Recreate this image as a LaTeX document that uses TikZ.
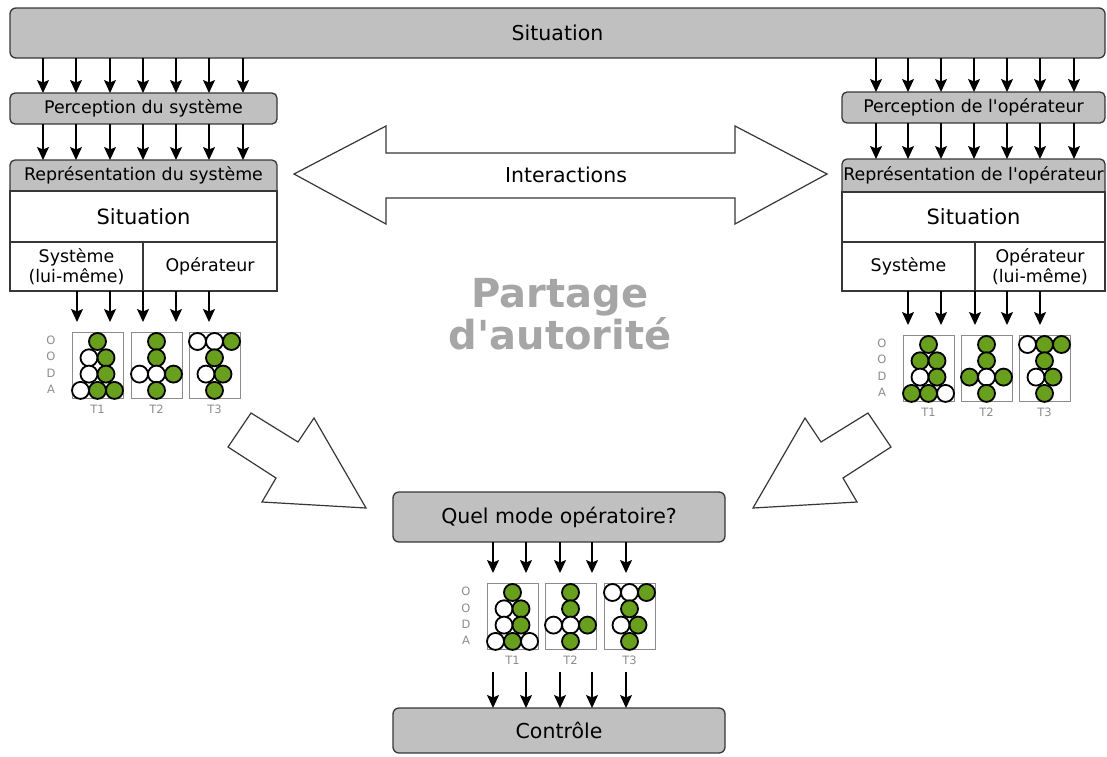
\documentclass[tikz,border=0pt]{standalone}
\usepackage{fontspec}
\setmainfont{DejaVu Sans}[Ligatures=TeXOff]
\usetikzlibrary{arrows.meta,calc}

\definecolor{gris}{RGB}{192,192,192}
\definecolor{trait}{RGB}{55,55,55}
\definecolor{vert}{RGB}{104,160,30}
\definecolor{grisclair}{RGB}{140,140,140}
\definecolor{grispartage}{RGB}{166,166,166}

\tikzset{
	boite/.style={draw=trait,line width=1.3pt,fill=gris,rounded corners=6pt,inner sep=0,outer sep=0,font=\fontsize{20.5}{24}\selectfont},
	petiteboite/.style={boite,rounded corners=5pt,font=\fontsize{17.4}{20}\selectfont},
	texte/.style={inner sep=0,outer sep=0,font=\fontsize{17.4}{20}\selectfont},
	cellule/.style={draw=trait,line width=1.3pt,fill=white,inner sep=0,outer sep=0,align=center,font=\fontsize{17.4}{20}\selectfont},
	fleche/.style={line width=1.4pt,-{Stealth[length=13pt,width=12pt,inset=2.5pt]}},
	grille/.style={draw=grisclair,line width=0.8pt,fill=white,minimum width=51pt,minimum height=66pt,inner sep=0,outer sep=0},
	pion/.style={circle,draw=black,line width=1.8pt,minimum size=17pt,inner sep=0},
	lettre/.style={text=grisclair,inner sep=0,font=\fontsize{11.5}{12}\selectfont},
	creuse/.style={draw=trait,line width=1.2pt,fill=white},
	partage/.style={align=center,text=grispartage,font=\bfseries\fontsize{40}{38}\selectfont},
}

\newcommand{\grilleooda}[5]{%
	\node[grille,anchor=north west] (#1) at (#2,#3) {};
	\node[lettre] (#1t) at ($(#1.south)+(0,11)$) {#4};
	\foreach \k/\r/\coul in {#5}
		\node[pion,fill=\coul] at ($(#1.north west)+(8.5+8.5*\k,9.5+16.3*\r)$) {};
}
\newcommand{\lettresooda}[1]{%
	\foreach \l [count=\r from 0] in {O,O,D,A}
		\node[lettre] at ($(#1.north west)+(-21,8.5+16.3*\r)$) {\l};
}

\begin{document}
\begin{tikzpicture}[x=1pt,y=-1pt]
	\useasboundingbox (0,0) rectangle (1107,756);

	\node[boite,minimum width=1095pt,minimum height=50pt] (sit) at (557.5,33) {Situation};

	\node[petiteboite,minimum width=267pt,minimum height=31pt] (percS) at (143.5,108.5) {Perception du système};
	\node[petiteboite,minimum width=267pt,minimum height=40pt] (repS) at (143.5,180) {};
	\node[texte] (repSt) at (143.5,175.5) {Représentation du système};
	\node[cellule,minimum width=267pt,minimum height=51pt,font=\fontsize{21}{24}\selectfont] (sitS) at (143.5,216.5) {Situation};
	\node[cellule,minimum width=133pt,minimum height=49pt] (celSa) at (76.5,266.5) {Système\\(lui-même)};
	\node[cellule,minimum width=134pt,minimum height=49pt] (celSb) at (210,266.5) {Opérateur};

	\node[petiteboite,minimum width=263pt,minimum height=31pt] (percO) at (973.5,107.5) {Perception de l'opérateur};
	\node[petiteboite,minimum width=263pt,minimum height=41pt] (repO) at (973.5,179.5) {};
	\node[texte] (repOt) at (973.5,175.5) {Représentation de l'opérateur};
	\node[cellule,minimum width=263pt,minimum height=50pt,font=\fontsize{21}{24}\selectfont] (sitO) at (973.5,217) {Situation};
	\node[cellule,minimum width=133pt,minimum height=49pt] (celOa) at (908.5,266.5) {Système};
	\node[cellule,minimum width=130pt,minimum height=49pt] (celOb) at (1040,266.5) {Opérateur\\(lui-même)};

	\foreach \x in {43,76,110,143,176,209,243} {
		\draw[fleche] (sit.south -| \x,0) -- (percS.north -| \x,0);
		\draw[fleche] (percS.south -| \x,0) -- (repS.north -| \x,0);
	}
	\foreach \x in {876,908,941,974,1007,1040,1074} {
		\draw[fleche] (sit.south -| \x,0) -- (percO.north -| \x,0);
		\draw[fleche] (percO.south -| \x,0) -- (repO.north -| \x,0);
	}

	\grilleooda{gS1}{72}{332}{T1}{2/0/vert,1/1/white,3/1/vert,1/2/white,3/2/vert,0/3/white,2/3/vert,4/3/vert}
	\grilleooda{gS2}{131}{332}{T2}{2/0/vert,2/1/vert,0/2/white,2/2/white,4/2/vert,2/3/vert}
	\grilleooda{gS3}{189}{332}{T3}{0/0/white,2/0/white,4/0/vert,2/1/vert,1/2/white,3/2/vert,2/3/vert}
	\lettresooda{gS1}

	\grilleooda{gO1}{903}{335}{T1}{2/0/vert,1/1/vert,3/1/vert,1/2/white,3/2/vert,0/3/vert,2/3/vert,4/3/white}
	\grilleooda{gO2}{961}{335}{T2}{2/0/vert,2/1/vert,0/2/vert,2/2/white,4/2/vert,2/3/vert}
	\grilleooda{gO3}{1019}{335}{T3}{0/0/white,2/0/vert,4/0/vert,2/1/vert,1/2/white,3/2/vert,2/3/vert}
	\lettresooda{gO1}

	\coordinate (finS) at ($(gS1.north)+(0,-10)$);
	\coordinate (finO) at ($(gO1.north)+(0,-10)$);
	\foreach \x in {77,110,143,176,209}
		\draw[fleche] (celSa.south -| \x,0) -- (finS -| \x,0);
	\foreach \x in {908,941,975,1007,1040}
		\draw[fleche] (celOa.south -| \x,0) -- (finO -| \x,0);

	\draw[creuse] (294,174) -- (386,126) -- (386,153) -- (735,153) -- (735,126) -- (827,174) -- (735,224) -- (735,198) -- (386,198) -- (386,224) -- cycle;
	\node[font=\fontsize{20.5}{24}\selectfont] (inter) at (566,175) {Interactions};

	\node[partage] (titre) at (560,314) {Partage\\d'autorité};

	\draw[creuse] (251,413) -- (298,442) -- (314,418) -- (366,508) -- (262,502) -- (276,478) -- (228,447) -- cycle;
	\draw[creuse] (868,413) -- (821,442) -- (805,418) -- (753,508) -- (857,502) -- (843,478) -- (891,447) -- cycle;

	\node[boite,minimum width=332pt,minimum height=50pt] (quel) at (559,517) {Quel mode opératoire?};
	\grilleooda{gB1}{487}{583}{T1}{2/0/vert,1/1/white,3/1/vert,1/2/white,3/2/vert,0/3/white,2/3/vert,4/3/white}
	\grilleooda{gB2}{545}{583}{T2}{2/0/vert,2/1/vert,0/2/white,2/2/white,4/2/vert,2/3/vert}
	\grilleooda{gB3}{604}{583}{T3}{0/0/white,2/0/white,4/0/vert,2/1/vert,1/2/white,3/2/vert,2/3/vert}
	\lettresooda{gB1}
	\node[boite,minimum width=332pt,minimum height=45pt] (ctrl) at (559,730.5) {Contrôle};

	\coordinate (finB) at ($(gB1.north)+(0,-10)$);
	\coordinate (debB) at ($(gB1.south)+(0,23)$);
	\foreach \x in {493,526,560,592,626} {
		\draw[fleche] (quel.south -| \x,0) -- (finB -| \x,0);
		\draw[fleche] (debB -| \x,0) -- (ctrl.north -| \x,0);
	}
\end{tikzpicture}
\end{document}
